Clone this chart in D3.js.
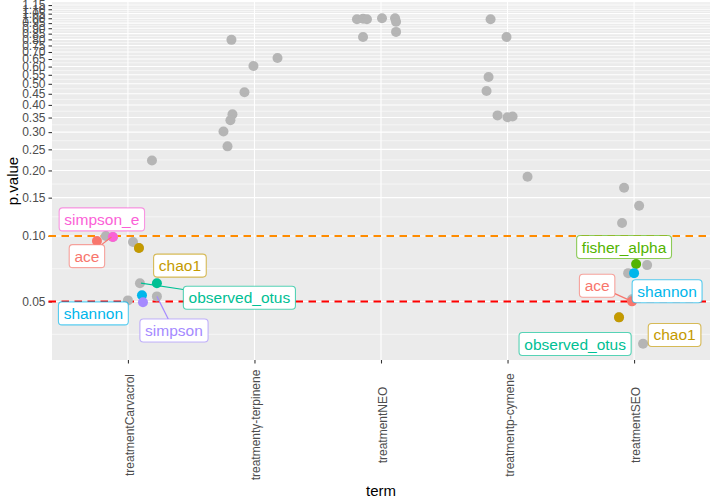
<!DOCTYPE html>
<html>
<head>
<meta charset="utf-8">
<script src="https://cdn.jsdelivr.net/npm/d3@7"></script>
<style>
  html, body { margin: 0; padding: 0; background: #ffffff; }
  svg { display: block; font-family: "Liberation Sans", Arial, Helvetica, sans-serif; }
</style>
</head>
<body>
<svg id="chart" width="710" height="501"></svg>
<script>
// ---------------- data ----------------
const terms = ["treatmentCarvacrol", "treatmentγ-terpinene", "treatmentNEO", "treatmentp-cymene", "treatmentSEO"];

const yTickValues = [0.05, 0.10, 0.15, 0.20, 0.25, 0.30, 0.35, 0.40, 0.45, 0.50, 0.55, 0.60,
                     0.65, 0.70, 0.75, 0.80, 0.85, 0.90, 0.95, 1.00, 1.05, 1.10, 1.15];
const yTickLabels = ["0.05", "0.10", "0.15", "0.20", "0.25", "0.30", "0.35", "0.40", "0.45", "0.50", "0.55", "0.60",
                     "0.65", "0.70", "0.75", "0.80", "0.85", "0.90", "0.95", "1.00", "1.05", "1.10", "1.15"];

// all p-values per term (grey, jittered points)
const allPValues = [
  [0.100, 0.0938, 0.0607, 0.0528, 0.0506, 0.222, 0.088, 0.0989],
  [0.796, 0.657, 0.604, 0.457, 0.362, 0.340, 0.302, 0.258],
  [0.990, 0.995, 0.990, 1.000, 1.000, 0.963, 0.821, 0.866],
  [0.990, 0.820, 0.537, 0.463, 0.358, 0.351, 0.354, 0.187],
  [0.1666, 0.1376, 0.1148, 0.0735, 0.0675, 0.0512, 0.032, 0.0423]
];

// significant indices (coloured points)
const sigTerm  = ["treatmentCarvacrol", "treatmentCarvacrol", "treatmentCarvacrol", "treatmentCarvacrol",
                  "treatmentCarvacrol", "treatmentCarvacrol",
                  "treatmentSEO", "treatmentSEO", "treatmentSEO", "treatmentSEO", "treatmentSEO"];
const sigIndex = ["simpson_e", "ace", "chao1", "observed_otus", "shannon", "simpson",
                  "fisher_alpha", "shannon", "ace", "chao1", "observed_otus"];
const sigP     = [0.099, 0.0948, 0.088, 0.0607, 0.0534, 0.0496,
                  0.0743, 0.0675, 0.0501, 0.0423, 0.032];

const indexLevels = ["ace", "chao1", "fisher_alpha", "observed_otus", "shannon", "simpson", "simpson_e"];
const thresholds = [0.10, 0.05];

// ---------------- layout (jitter, label placement) ----------------
const greyJitter = [
  [-0.174, 0.040, 0.095, 0.229, 0.000, 0.190, 0.087, -0.119],
  [-0.182, 0.182, -0.008, -0.079, -0.174, -0.190, -0.245, -0.213],
  [-0.190, -0.142, -0.111, 0.008, 0.111, 0.119, -0.142, 0.119],
  [-0.134, -0.008, -0.150, -0.166, -0.079, 0.000, 0.040, 0.158],
  [-0.079, 0.040, -0.095, 0.103, -0.047, -0.016, 0.071, -0.119]
];
const sigJitter = [-0.119, -0.245, 0.087, 0.229, 0.111, 0.119,
                   0.016, 0.000, -0.016, -0.119, -0.103];
// label centre (band offset, p) and segment anchor (band offset, p) or null
const labelPos = [
  [-0.206, 0.1192], [-0.324, 0.0808], [0.411, 0.0731], [0.881, 0.0520], [-0.273, 0.0441], [0.364, 0.0368],
  [-0.079, 0.0890], [0.261, 0.0557], [-0.292, 0.0591], [0.320, 0.0351], [-0.466, 0.0319]
];
const segAnchor = [
  null, [-0.13, 0.099], null, [0.103, 0.0607], null, [0.229, 0.0528],
  null, null, [-0.016, 0.0501], null, null
];

// ---------------- chart ----------------
const W = 710, H = 501;
const panel = { left: 52, right: 710, top: 2, bottom: 360 };
const svg = d3.select("#chart");

const colour = d3.scaleOrdinal()
  .domain(indexLevels)
  .range(["#F8766D", "#C49A00", "#53B400", "#00C094", "#00B6EB", "#A58AFF", "#FB61D7"]);

const x = d3.scalePoint().domain(terms).range([panel.left, panel.right]).padding(0.6);
const step = x.step();

const allFlat = allPValues.flat().concat(sigP);
const lmin = Math.log10(d3.min(allFlat)), lmax = Math.log10(d3.max(allFlat));
const ex = (lmax - lmin) * 0.05;
const y = d3.scaleLog()
  .domain([Math.pow(10, lmin - ex), Math.pow(10, lmax + ex)])
  .range([panel.bottom, panel.top]);

// panel background
svg.append("rect")
  .attr("x", panel.left).attr("y", panel.top)
  .attr("width", panel.right - panel.left).attr("height", panel.bottom - panel.top)
  .attr("fill", "#EBEBEB");

// minor gridlines (midpoints in log space)
const lt = yTickValues.map(v => Math.log10(v));
const minor = [];
const ext = [lt[0] - (lt[1] - lt[0])].concat(lt, [lt[lt.length - 1] + (lt[lt.length - 1] - lt[lt.length - 2])]);
for (let i = 0; i < ext.length - 1; i++) minor.push(Math.pow(10, (ext[i] + ext[i + 1]) / 2));
const [d0, d1] = y.domain();
const grid = svg.append("g");
grid.selectAll("line.minor").data(minor.filter(v => v > d0 && v < d1)).join("line")
  .attr("class", "minor")
  .attr("x1", panel.left).attr("x2", panel.right)
  .attr("y1", d => y(d)).attr("y2", d => y(d))
  .attr("stroke", "#ffffff").attr("stroke-width", 0.55);
grid.selectAll("line.major").data(yTickValues).join("line")
  .attr("class", "major")
  .attr("x1", panel.left).attr("x2", panel.right)
  .attr("y1", d => y(d)).attr("y2", d => y(d))
  .attr("stroke", "#ffffff").attr("stroke-width", 1.07);
grid.selectAll("line.vmajor").data(terms).join("line")
  .attr("class", "vmajor")
  .attr("x1", d => x(d)).attr("x2", d => x(d))
  .attr("y1", panel.top).attr("y2", panel.bottom)
  .attr("stroke", "#ffffff").attr("stroke-width", 1.07);

// axes
const yAxis = d3.axisLeft(y).tickValues(yTickValues)
  .tickFormat((d, i) => yTickLabels[i]).tickSize(3.5).tickPadding(3);
const gy = svg.append("g").attr("transform", `translate(${panel.left},0)`).call(yAxis);
gy.select(".domain").remove();
gy.selectAll(".tick line").attr("stroke", "#333333").attr("stroke-width", 1.07);
gy.selectAll(".tick text").attr("fill", "#4D4D4D").attr("font-size", 12)
  .attr("font-family", "Liberation Sans, Arial, sans-serif");

const xAxis = d3.axisBottom(x).tickSize(3.5).tickFormat("");
const gx = svg.append("g").attr("transform", `translate(0,${panel.bottom})`).call(xAxis);
gx.select(".domain").remove();
gx.selectAll(".tick line").attr("stroke", "#333333").attr("stroke-width", 1.07);
gx.selectAll(".tick").append("text")
  .attr("transform", "translate(1.5,65) rotate(-90)")
  .attr("text-anchor", "middle")
  .attr("dominant-baseline", "central")
  .attr("fill", "#4D4D4D").attr("font-size", 12)
  .attr("font-family", "Liberation Sans, Arial, sans-serif")
  .text(d => d);

// axis titles
svg.append("text").attr("x", (panel.left + panel.right) / 2).attr("y", 490)
  .attr("text-anchor", "middle").attr("dominant-baseline", "central")
  .attr("font-size", 15).attr("fill", "#000").text("term");
svg.append("text").attr("transform", `translate(12,${(panel.top + panel.bottom) / 2}) rotate(-90)`)
  .attr("text-anchor", "middle").attr("dominant-baseline", "central")
  .attr("font-size", 15).attr("fill", "#000").text("p.value");

// threshold lines
svg.append("g").selectAll("line").data(thresholds).join("line")
  .attr("x1", panel.left - 3.5).attr("x2", panel.right)
  .attr("y1", d => y(d)).attr("y2", d => y(d))
  .attr("stroke", (d, i) => i === 0 ? "#FF8C00" : "#FF0000")
  .attr("stroke-width", 1.9)
  .attr("stroke-dasharray", "7.5,5.5");

// grey points
const greyPts = [];
allPValues.forEach((arr, ti) => arr.forEach((p, j) => greyPts.push({ term: terms[ti], p, dx: greyJitter[ti][j] })));
svg.append("g").selectAll("circle").data(greyPts).join("circle")
  .attr("cx", d => x(d.term) + d.dx * step)
  .attr("cy", d => y(d.p))
  .attr("r", 5)
  .attr("fill", "#B5B5B5");

// coloured points
const sig = sigP.map((p, i) => ({ term: sigTerm[i], index: sigIndex[i], p, dx: sigJitter[i],
  lab: labelPos[i], anchor: segAnchor[i] }));
svg.append("g").selectAll("circle").data(sig).join("circle")
  .attr("cx", d => x(d.term) + d.dx * step)
  .attr("cy", d => y(d.p))
  .attr("r", 5)
  .attr("fill", d => colour(d.index));

// labels
const labG = svg.append("g").attr("font-family", "Liberation Sans, Arial, sans-serif");
const fs = 15.5, pad = 5.2, bh = 23;
sig.forEach(d => {
  const cx = x(d.term) + d.lab[0] * step;
  const cy = y(d.lab[1]);
  const g = labG.append("g");
  const seg = g.append("line");
  const rect = g.append("rect");
  const t = g.append("text")
    .attr("x", cx).attr("y", cy)
    .attr("text-anchor", "middle").attr("dominant-baseline", "central")
    .attr("font-size", fs).attr("fill", colour(d.index))
    .text(d.index);
  const tw = t.node().getComputedTextLength();
  const bw = tw + 2 * pad;
  const x0 = cx - bw / 2, y0 = cy - bh / 2;
  rect.attr("x", x0).attr("y", y0).attr("width", bw).attr("height", bh)
    .attr("rx", 3.5).attr("fill", "#ffffff")
    .attr("stroke", colour(d.index)).attr("stroke-opacity", 0.65).attr("stroke-width", 1.1);
  if (d.anchor) {
    const ax = x(d.term) + d.anchor[0] * step, ay = y(d.anchor[1]);
    // intersect line anchor->centre with box border
    const dxv = cx - ax, dyv = cy - ay;
    let tmin = 1;
    const cand = [];
    if (dxv !== 0) { cand.push((x0 - ax) / dxv, (x0 + bw - ax) / dxv); }
    if (dyv !== 0) { cand.push((y0 - ay) / dyv, (y0 + bh - ay) / dyv); }
    cand.forEach(tt => {
      if (tt > 0 && tt < tmin) {
        const px = ax + tt * dxv, py = ay + tt * dyv;
        if (px >= x0 - 0.01 && px <= x0 + bw + 0.01 && py >= y0 - 0.01 && py <= y0 + bh + 0.01) tmin = tt;
      }
    });
    seg.attr("x1", ax).attr("y1", ay)
      .attr("x2", ax + tmin * dxv).attr("y2", ay + tmin * dyv)
      .attr("stroke", colour(d.index)).attr("stroke-width", 1.2);
  } else {
    seg.remove();
  }
});
</script>
</body>
</html>
